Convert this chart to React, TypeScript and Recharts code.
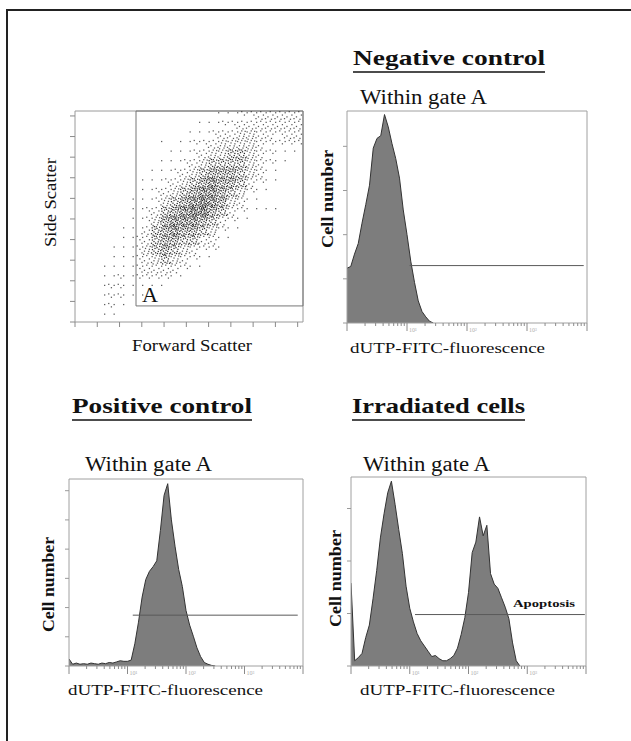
import React from "react";
import {
  Area,
  AreaChart,
  ReferenceArea,
  ReferenceLine,
  Scatter,
  ScatterChart,
  XAxis,
  YAxis,
} from "recharts";

const FULL = 1024; // channel range of every axis
const BIN = 16; // channels per histogram bin

// forward/side scatter density, 24 columns x 22 rows, top row first (0 empty .. 8 densest)
const scatterDensity = [
  "000000000000000112233333",
  "000000000000011223333333",
  "000000000000112334433233",
  "000000000101223444432222",
  "000000000011234455432111",
  "000000000112345555432110",
  "000000001123456665431100",
  "000000011234567665321100",
  "000000012345677654211000",
  "000000112456787643110000",
  "000000123567886532111100",
  "000000124677765321100000",
  "000001135676654211000000",
  "000001235665533110000000",
  "000011245654322100000000",
  "000011234543211000000000",
  "000111233332110000000000",
  "000121222211000000000000",
  "000221111100000000000000",
  "000221110000000000000000",
  "000211000000000000000000",
  "000110000000000000000000",
];
const gateA = { x1: 274, y1: 78 };
const scatterTicks = [0, 100, 200, 300, 400, 500, 600, 700, 800, 900, 1000];

// cell counts per bin of dUTP-FITC channel
const negCounts = [
  62, 64, 78, 90, 113, 134, 156, 198, 209, 212, 236, 222, 203, 186, 164, 128, 100, 70, 46,
  25, 13, 7, 2, 0,
];
const posCounts = [
  12, 3, 5, 3, 4, 3, 5, 4, 3, 5, 4, 6, 5, 7, 9, 8, 8, 10, 38, 75, 118, 148, 162, 170, 180,
  232, 292, 312, 250, 205, 165, 136, 95, 70, 51, 31, 16, 6, 3, 1, 0,
];
const irrCounts = [
  79, 5, 8, 12, 27, 39, 64, 91, 122, 145, 165, 176, 154, 130, 107, 76, 55, 42, 31, 24, 19,
  14, 9, 10, 7, 5, 5, 7, 10, 17, 30, 46, 70, 108, 118, 142, 124, 134, 88, 78, 74, 65, 56,
  45, 22, 5, 0,
];

const negMarker = { from: 267, to: 1010, level: 65 };
const posMarker = { from: 279, to: 1001, level: 87 };
const irrMarker = { from: 279, to: 1019, level: 49 };

const negYTicks = [0, 50, 100, 150, 200];
const posYTicks = [0, 50, 100, 150, 200, 250, 300];
const irrYTicks = [0, 50, 100, 150];
const decadeLabels = ["10\u2070", "10\u00b9", "10\u00b2", "10\u00b3", "10\u2074"];

const YW = 20;
const XH = 20;
const MT = 5;
const MR = 5;

const logTicks: number[] = [];
for (let d = 0; d < 4; d++) {
  for (let k = 1; k < 10; k++) logTicks.push((FULL / 4) * (d + Math.log10(k)));
}
logTicks.push(FULL);

const LogTick = (props: any) => {
  const { x, y, payload } = props;
  const dec = payload.value / (FULL / 4);
  const isDecade = Math.abs(dec - Math.round(dec)) < 1e-6;
  const idx = Math.round(dec);
  return (
    <g>
      <line x1={x} x2={x} y1={y} y2={y + (isDecade ? 8 : 3)} stroke="#8a8a8a" />
      {isDecade && idx > 0 && idx < 4 ? (
        <text x={x + 2} y={y + 9} fontSize={6} fill="#b0b0b0" fontFamily="Liberation Serif">
          {decadeLabels[idx]}
        </text>
      ) : null}
    </g>
  );
};

// fixed stipple slots inside one density cell (unit coords)
const SLOTS = [
  [0.12, 0.18], [0.55, 0.07], [0.83, 0.42], [0.31, 0.61], [0.68, 0.86], [0.05, 0.79],
  [0.42, 0.33], [0.91, 0.12], [0.22, 0.94], [0.76, 0.64], [0.48, 0.78], [0.15, 0.45],
  [0.63, 0.25], [0.95, 0.88], [0.35, 0.05], [0.87, 0.27], [0.02, 0.55], [0.58, 0.52],
  [0.27, 0.29], [0.72, 0.04], [0.45, 0.95], [0.09, 0.03], [0.81, 0.77], [0.38, 0.83],
  [0.66, 0.38], [0.19, 0.7], [0.52, 0.19], [0.97, 0.6], [0.29, 0.48], [0.75, 0.95],
  [0.6, 0.68], [0.33, 0.17],
];
// dots drawn for each density level
const DOTS_PER_LEVEL = [0, 1, 3, 6, 10, 15, 21, 27, 32];

const SC = { left: 75, top: 111, width: 228, height: 211 };
const CELL_W = SC.width / 24;
const CELL_H = SC.height / 22;

const DensityCell = (props: any) => {
  const { cx, cy, payload } = props;
  const n = DOTS_PER_LEVEL[payload.d];
  const dots = [];
  for (let k = 0; k < n; k++) {
    const [u, v] = SLOTS[k];
    dots.push(
      <rect
        key={k}
        x={cx - CELL_W / 2 + u * CELL_W - 0.6}
        y={cy - CELL_H / 2 + v * CELL_H - 0.6}
        width={1.25}
        height={1.25}
        fill="#151515"
        fillOpacity={payload.d > 4 ? 0.9 : 0.7}
      />
    );
  }
  return <g>{dots}</g>;
};

const cellData: { x: number; y: number; d: number }[] = [];
scatterDensity.forEach((row, r) => {
  row.split("").forEach((ch, c) => {
    const d = Number(ch);
    if (d > 0) {
      cellData.push({
        x: ((c + 0.5) * FULL) / 24,
        y: FULL - ((r + 0.5) * FULL) / 22,
        d,
      });
    }
  });
});

function ScatterPanel() {
  return (
    <div style={{ position: "absolute", left: SC.left - YW, top: SC.top - MT }}>
      <ScatterChart
        width={SC.width + YW + MR}
        height={SC.height + MT + XH}
        margin={{ top: MT, right: MR, left: 0, bottom: 0 }}>
        <XAxis
          type="number"
          dataKey="x"
          domain={[0, FULL]}
          ticks={scatterTicks}
          interval={0}
          height={XH}
          axisLine={false}
          tickSize={5}
          tickLine={{ stroke: "#8a8a8a" }}
          tickFormatter={() => ""}
          allowDataOverflow
        />
        <YAxis
          type="number"
          dataKey="y"
          domain={[0, FULL]}
          ticks={scatterTicks}
          interval={0}
          width={YW}
          axisLine={false}
          tickSize={5}
          tickLine={{ stroke: "#8a8a8a" }}
          tickFormatter={() => ""}
          allowDataOverflow
        />
        <Scatter data={cellData} shape={DensityCell} isAnimationActive={false} />
        <ReferenceArea x1={0} x2={FULL} y1={0} y2={FULL} fill="none" stroke="#9a9a9a" />
        <ReferenceArea
          x1={gateA.x1}
          x2={FULL}
          y1={gateA.y1}
          y2={FULL}
          fill="none"
          stroke="#777"
        />
      </ScatterChart>
    </div>
  );
}

interface HistProps {
  left: number;
  top: number;
  width: number;
  height: number;
  counts: number[];
  yMax: number;
  yTicks: number[];
  marker: { from: number; to: number; level: number };
}

function Histogram({ left, top, width, height, counts, yMax, yTicks, marker }: HistProps) {
  const data = counts.map((n, i) => ({ ch: i * BIN, n }));
  return (
    <div style={{ position: "absolute", left: left - YW, top: top - MT }}>
      <AreaChart
        width={width + YW + MR}
        height={height + MT + XH}
        data={data}
        margin={{ top: MT, right: MR, left: 0, bottom: 0 }}>
        <XAxis
          type="number"
          dataKey="ch"
          domain={[0, FULL]}
          ticks={logTicks}
          interval={0}
          height={XH}
          axisLine={false}
          tickLine={false}
          tickSize={0}
          tickMargin={0}
          tick={(p: any) => <LogTick {...p} />}
          allowDataOverflow
        />
        <YAxis
          type="number"
          domain={[0, yMax]}
          ticks={yTicks}
          interval={0}
          width={YW}
          axisLine={false}
          tickSize={4}
          tickLine={{ stroke: "#9a9a9a" }}
          tickFormatter={() => ""}
          allowDataOverflow
        />
        <Area
          type="linear"
          dataKey="n"
          stroke="#333"
          strokeWidth={1}
          fill="#7d7d7d"
          fillOpacity={1}
          dot={false}
          activeDot={false}
          isAnimationActive={false}
        />
        <ReferenceLine
          segment={[
            { x: marker.from, y: marker.level },
            { x: marker.to, y: marker.level },
          ]}
          stroke="#5a5a5a"
        />
        <ReferenceArea x1={0} x2={FULL} y1={0} y2={yMax} fill="none" stroke="#a0a0a0" />
      </AreaChart>
    </div>
  );
}

const SERIF = "'Liberation Serif', 'Times New Roman', serif";

const Txt = ({ x, y, len, size, bold, children }: any) => (
  <text
    x={x}
    y={y}
    fontSize={size}
    fontWeight={bold ? "bold" : "normal"}
    fontFamily={SERIF}
    fill="#111"
    textLength={len}
    lengthAdjust="spacingAndGlyphs">
    {children}
  </text>
);

const VTxt = ({ x, y, len, size, bold, children }: any) => (
  <g transform={`translate(${x},${y}) rotate(-90)`}>
    <Txt x={0} y={0} len={len} size={size} bold={bold}>
      {children}
    </Txt>
  </g>
);

const Title = ({ x, y, len, children }: any) => (
  <g>
    <Txt x={x} y={y} len={len} size={21} bold>
      {children}
    </Txt>
    <line x1={x} x2={x + len} y1={y + 7} y2={y + 7} stroke="#111" strokeWidth={1.6} />
  </g>
);

export default function App() {
  return (
    <div
      style={{
        position: "absolute",
        left: 0,
        top: 0,
        width: 631,
        height: 741,
        background: "#fff",
        overflow: "hidden",
      }}>
      <ScatterPanel />
      <Histogram
        left={347}
        top={111}
        width={240}
        height={212}
        counts={negCounts}
        yMax={240}
        yTicks={negYTicks}
        marker={negMarker}
      />
      <Histogram
        left={69}
        top={479}
        width={234}
        height={187}
        counts={posCounts}
        yMax={320}
        yTicks={posYTicks}
        marker={posMarker}
      />
      <Histogram
        left={351}
        top={477}
        width={235}
        height={189}
        counts={irrCounts}
        yMax={180}
        yTicks={irrYTicks}
        marker={irrMarker}
      />
      <svg
        width={631}
        height={741}
        style={{ position: "absolute", left: 0, top: 0, pointerEvents: "none" }}>
        <rect x={7} y={10} width={800} height={800} fill="none" stroke="#222" strokeWidth={2} />

        <Title x={353} y={65} len={192}>Negative control</Title>
        <Title x={72} y={413} len={180}>Positive control</Title>
        <Title x={352} y={413} len={173}>Irradiated cells</Title>

        <Txt x={360} y={104} len={127} size={20}>Within gate A</Txt>
        <Txt x={85} y={471} len={127} size={20}>Within gate A</Txt>
        <Txt x={363} y={471} len={127} size={20}>Within gate A</Txt>

        <VTxt x={56} y={247} len={89} size={16}>Side Scatter</VTxt>
        <Txt x={132} y={351} len={120} size={16}>Forward Scatter</Txt>
        <Txt x={142} y={302} len={16} size={22}>A</Txt>

        <VTxt x={333} y={248} len={98} size={16} bold>Cell number</VTxt>
        <VTxt x={54} y={632} len={95} size={16} bold>Cell number</VTxt>
        <VTxt x={341} y={627} len={97} size={16} bold>Cell number</VTxt>

        <Txt x={350} y={353} len={195} size={15}>dUTP-FITC-fluorescence</Txt>
        <Txt x={68} y={695} len={195} size={15}>dUTP-FITC-fluorescence</Txt>
        <Txt x={360} y={695} len={195} size={15}>dUTP-FITC-fluorescence</Txt>

        <Txt x={513} y={607} len={62} size={11} bold>Apoptosis</Txt>
      </svg>
    </div>
  );
}
